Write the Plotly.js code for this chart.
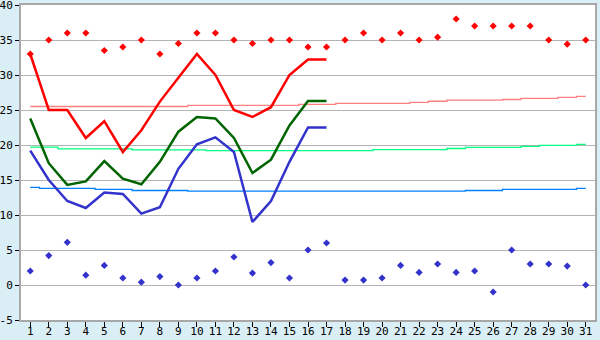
<!DOCTYPE html>
<html>
<head>
<meta charset="utf-8">
<script src="https://cdn.plot.ly/plotly-3.0.1.min.js"></script>
<style>html,body{margin:0;padding:0;background:#d9eef5;}#chart{width:600px;height:340px;}</style>
</head>
<body>
<div id="chart"></div>
<script>
const days = [1,2,3,4,5,6,7,8,9,10,11,12,13,14,15,16,17,18,19,20,21,22,23,24,25,26,27,28,29,30,31];
const obsDays = [1,2,3,4,5,6,7,8,9,10,11,12,13,14,15,16,17];
const recordHigh = [33,35,36,36,33.5,34,35,33,34.5,36,36,35,34.5,35,35,34,34,35,36,35,36,35,35.4,38,37,37,37,37,35,34.4,35];
const recordLow = [2,4.2,6.1,1.4,2.8,1,0.4,1.2,0,1,2,4,1.7,3.2,1,5,6,0.7,0.7,1,2.8,1.8,3,1.8,2,-1,5,3,3,2.7,0];
const tMax = [33,25,25,21,23.4,19,22.1,26.2,29.6,33,30,25,24,25.4,30,32.2,32.2];
const tMean = [23.8,17.4,14.3,14.8,17.7,15.2,14.4,17.6,21.9,24,23.8,21,16,17.9,22.8,26.3,26.3];
const tMin = [19.2,15,12,11,13.2,13,10.2,11.1,16.6,20.1,21.1,19,9,12,17.6,22.5,22.5];
const normMax = [25.5,25.5,25.5,25.5,25.5,25.5,25.5,25.5,25.5,25.65,25.65,25.65,25.65,25.65,25.65,25.8,25.8,25.95,25.95,25.95,25.95,26.1,26.25,26.4,26.4,26.4,26.5,26.65,26.65,26.8,26.95];
const normMean = [19.7,19.7,19.45,19.45,19.45,19.45,19.3,19.3,19.3,19.3,19.2,19.2,19.2,19.2,19.2,19.2,19.2,19.2,19.2,19.35,19.35,19.35,19.35,19.5,19.65,19.65,19.65,19.8,19.95,19.95,20.1];
const normMin = [13.95,13.8,13.8,13.8,13.65,13.65,13.5,13.5,13.5,13.4,13.4,13.4,13.4,13.4,13.4,13.4,13.4,13.4,13.4,13.4,13.4,13.4,13.4,13.4,13.5,13.5,13.65,13.65,13.65,13.65,13.8];
const yTicks = [-5,0,5,10,15,20,25,30,35,40];

const traces = [
  {x: days, y: normMax, mode: 'lines', line: {color: '#ff8080', width: 1.3, shape: 'hvh'}},
  {x: days, y: normMean, mode: 'lines', line: {color: '#00ff80', width: 1.3, shape: 'hvh'}},
  {x: days, y: normMin, mode: 'lines', line: {color: '#0080ff', width: 1.3, shape: 'hvh'}},
  {x: obsDays, y: tMax, mode: 'lines', line: {color: '#ff0000', width: 2.5}},
  {x: obsDays, y: tMean, mode: 'lines', line: {color: '#006400', width: 2.5}},
  {x: obsDays, y: tMin, mode: 'lines', line: {color: '#3333cc', width: 2.5}},
  {x: days, y: recordHigh, mode: 'markers', marker: {color: '#ff0000', symbol: 'diamond', size: 5.5}},
  {x: days, y: recordLow, mode: 'markers', marker: {color: '#3333cc', symbol: 'diamond', size: 5.5}}
];

const layout = {
  width: 600, height: 340,
  margin: {l: 21, r: 5, t: 5, b: 20, pad: 0},
  paper_bgcolor: '#d9eef5',
  plot_bgcolor: '#ffffff',
  showlegend: false,
  font: {family: 'DejaVu Sans Mono, monospace', size: 11, color: '#000000'},
  xaxis: {
    range: [0.5, 31.5], tickmode: 'array', tickvals: days, ticktext: days.map(String),
    showgrid: false, zeroline: false, showline: true, linecolor: '#a8a8a8', linewidth: 2, mirror: true,
    ticks: 'outside', ticklen: 5, tickcolor: '#000000', tickwidth: 1,
    ticklabelstandoff: -5, ticklabeloverflow: 'allow'
  },
  yaxis: {
    range: [-5, 40], tickmode: 'array', tickvals: yTicks, ticktext: yTicks.map(String),
    showgrid: true, gridcolor: '#b4b4b4', gridwidth: 1, zeroline: false,
    showline: true, linecolor: '#a8a8a8', linewidth: 2, mirror: true,
    ticks: 'outside', ticklen: 4, tickcolor: '#000000', tickwidth: 1, ticklabeloverflow: 'allow'
  }
};

Plotly.newPlot('chart', traces, layout, {staticPlot: true, displayModeBar: false});
</script>
</body>
</html>
